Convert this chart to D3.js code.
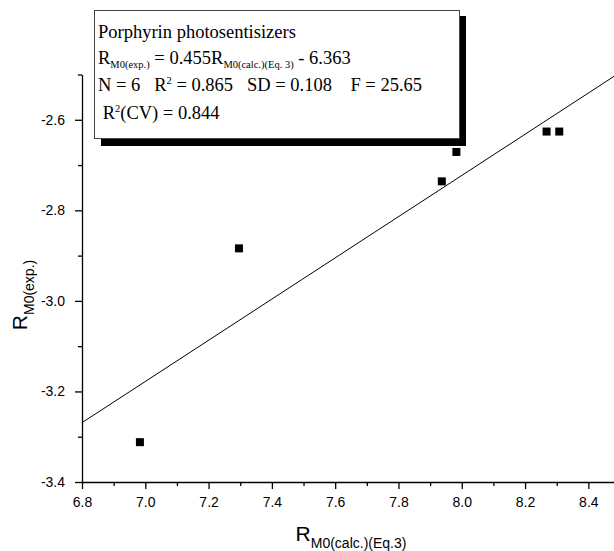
<html>
<head>
<meta charset="utf-8">
<script src="https://d3js.org/d3.v7.min.js"></script>
<style>
  body { margin: 0; background: #fff; }
  svg text { fill: #000; }
  .tick text { font: 14px "Liberation Sans", Arial, sans-serif; }
  .legend text { font: 18.5px "Liberation Serif", "Times New Roman", serif; white-space: pre; }
</style>
</head>
<body>
<div id="chart"></div>
<script>
var xCalc = [6.983, 7.296, 7.937, 7.983, 8.268, 8.308];
var yExp  = [-3.312, -2.884, -2.736, -2.671, -2.626, -2.626];
var slope = 0.455, intercept = -6.363;
var xTicks = [6.8, 7.0, 7.2, 7.4, 7.6, 7.8, 8.0, 8.2, 8.4];
var xMinor = [6.9, 7.1, 7.3, 7.5, 7.7, 7.9, 8.1, 8.3];
var yTicks = [-3.4, -3.2, -3.0, -2.8, -2.6];
var yMinor = [-3.3, -3.1, -2.9, -2.7, -2.5];

var width = 614, height = 551;

var x = d3.scaleLinear().domain([6.8, 8.5]).range([82, 620]);
var y = d3.scaleLinear().domain([-3.4, -2.5]).range([482, 74.5]);

var fmt = function (d) { return d.toFixed(1); };

var svg = d3.select("#chart").append("svg")
    .attr("width", width)
    .attr("height", height);

// axes
svg.append("g").attr("transform", "translate(0," + y(-3.4) + ")")
    .call(d3.axisBottom(x).tickValues(xTicks).tickFormat(fmt).tickSize(7).tickPadding(8).tickSizeOuter(0));
svg.append("g").attr("transform", "translate(0," + y(-3.4) + ")")
    .call(d3.axisBottom(x).tickValues(xMinor).tickFormat("").tickSize(4).tickSizeOuter(0))
    .select(".domain").remove();

svg.append("g").attr("transform", "translate(" + x(6.8) + ",0)")
    .call(d3.axisLeft(y).tickValues(yTicks).tickFormat(fmt).tickSize(7).tickPadding(10).tickSizeOuter(0));
svg.append("g").attr("transform", "translate(" + x(6.8) + ",0)")
    .call(d3.axisLeft(y).tickValues(yMinor).tickFormat("").tickSize(4).tickSizeOuter(0))
    .select(".domain").remove();

svg.selectAll(".domain, .tick line").attr("stroke", "#000").attr("stroke-width", 1.3);

// fit line
var fitX = [6.8, 8.5];
svg.append("line")
    .attr("x1", x(fitX[0])).attr("y1", y(slope * fitX[0] + intercept))
    .attr("x2", x(fitX[1])).attr("y2", y(slope * fitX[1] + intercept))
    .attr("stroke", "#000").attr("stroke-width", 1);

// points
svg.selectAll("rect.pt")
    .data(xCalc)
    .enter().append("rect")
    .attr("class", "pt")
    .attr("x", function (d) { return x(d) - 4; })
    .attr("y", function (d, i) { return y(yExp[i]) - 4; })
    .attr("width", 8).attr("height", 8)
    .attr("fill", "#000");

// axis titles
var xt = svg.append("text")
    .attr("x", 351).attr("y", 541)
    .attr("text-anchor", "middle")
    .style("font-family", "Liberation Sans, Arial, sans-serif");
xt.append("tspan").style("font-size", "21px").text("R");
xt.append("tspan").style("font-size", "14px").attr("dy", 7).text("M0(calc.)(Eq.3)");

var yt = svg.append("text")
    .attr("transform", "translate(27,295) rotate(-90)")
    .attr("text-anchor", "middle")
    .style("font-family", "Liberation Sans, Arial, sans-serif");
yt.append("tspan").style("font-size", "21px").text("R");
yt.append("tspan").style("font-size", "14px").attr("dy", 7).text("M0(exp.)");

// legend box with shadow
var lg = svg.append("g").attr("class", "legend");
lg.append("rect").attr("x", 101).attr("y", 16).attr("width", 365).attr("height", 130).attr("fill", "#000");
lg.append("rect").attr("x", 94.5).attr("y", 10.5).attr("width", 365).attr("height", 128)
    .attr("fill", "#fff").attr("stroke", "#444").attr("stroke-width", 1);

lg.append("text").attr("x", 98).attr("y", 38).text("Porphyrin photosentisizers");

var l2 = lg.append("text").attr("x", 98).attr("y", 64);
l2.append("tspan").text("R");
l2.append("tspan").style("font-size", "10.5px").attr("dy", 4).text("M0(exp.)");
l2.append("tspan").attr("dy", -4).text(" = 0.455R");
l2.append("tspan").style("font-size", "10.5px").attr("dy", 4).text("M0(calc.)(Eq. 3)");
l2.append("tspan").attr("dy", -4).text(" - 6.363");

var l3 = lg.append("text").attr("x", 98).attr("y", 91);
l3.append("tspan").text("N = 6   R");
l3.append("tspan").style("font-size", "10.5px").attr("dy", -7).text("2");
l3.append("tspan").attr("dy", 7).text(" = 0.865   SD = 0.108    F = 25.65");

var l4 = lg.append("text").attr("x", 98).attr("y", 119);
l4.append("tspan").text(" R");
l4.append("tspan").style("font-size", "10.5px").attr("dy", -7).text("2");
l4.append("tspan").attr("dy", 7).text("(CV) = 0.844");
</script>
</body>
</html>
